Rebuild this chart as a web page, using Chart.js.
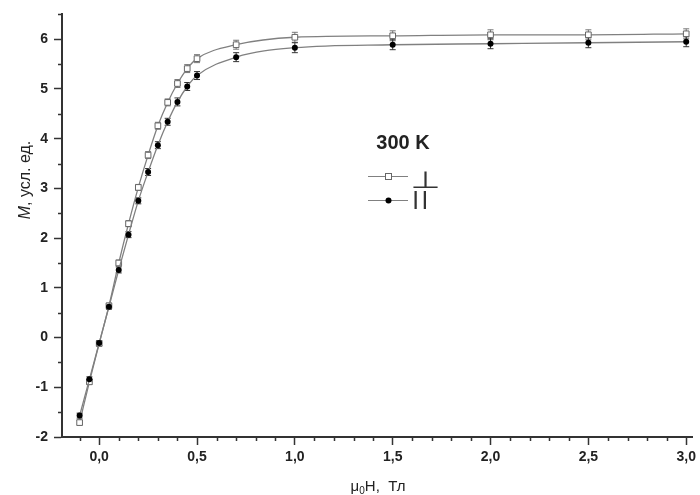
<!DOCTYPE html>
<html>
<head>
<meta charset="utf-8">
<script src="https://cdn.jsdelivr.net/npm/chart.js@4.4.0/dist/chart.umd.min.js"></script>
<style>
  body { margin: 0; background: #fff; }
  #wrap { width: 700px; height: 495px; }
</style>
</head>
<body>
<div id="wrap"><canvas id="magChart" width="700" height="495"></canvas></div>
<script>
// Поле, Тл
const fieldT = [-0.1, -0.05, 0, 0.05, 0.1, 0.15, 0.2, 0.25, 0.3, 0.35, 0.4, 0.45, 0.5, 0.7, 1.0, 1.5, 2.0, 2.5, 3.0];
// M для поля перпендикулярно (квадраты) и параллельно (кружки)
const magPerp = [-1.71, -0.89, -0.12, 0.64, 1.50, 2.29, 3.02, 3.67, 4.26, 4.73, 5.11, 5.41, 5.61, 5.89, 6.04, 6.07, 6.09, 6.09, 6.11];
const magPar  = [-1.57, -0.84, -0.11, 0.62, 1.36, 2.07, 2.75, 3.33, 3.87, 4.34, 4.74, 5.05, 5.27, 5.64, 5.83, 5.89, 5.91, 5.93, 5.95];
// погрешности
const errPerp = [0.05, 0.05, 0.05, 0.05, 0.06, 0.06, 0.06, 0.07, 0.07, 0.07, 0.08, 0.08, 0.08, 0.09, 0.1, 0.1, 0.1, 0.1, 0.1];
const errPar  = [0.05, 0.05, 0.05, 0.05, 0.06, 0.06, 0.06, 0.07, 0.07, 0.07, 0.08, 0.08, 0.08, 0.09, 0.1, 0.1, 0.1, 0.1, 0.1];

const xTicks = [0, 0.5, 1.0, 1.5, 2.0, 2.5, 3.0];
const yTicks = [-2, -1, 0, 1, 2, 3, 4, 5, 6];
const legendTitle = '300 K';
const legendLabels = ['\u22A5', '||'];

const AXIS = '#333';
const LINE = '#808080';

function fitGlyph(ctx, ch, x0, y0, x1, y1, font) {
    ctx.save();
    ctx.font = font;
    ctx.textAlign = 'left';
    ctx.textBaseline = 'alphabetic';
    const m = ctx.measureText(ch);
    const gw = m.actualBoundingBoxLeft + m.actualBoundingBoxRight;
    const gh = m.actualBoundingBoxAscent + m.actualBoundingBoxDescent;
    const sx = (x1 - x0) / gw, sy = (y1 - y0) / gh;
    ctx.translate(x0, y0);
    ctx.scale(sx, sy);
    ctx.fillText(ch, m.actualBoundingBoxLeft, m.actualBoundingBoxAscent);
    ctx.restore();
}

const extras = {
    id: 'extras',
    beforeDatasetsDraw(chart) {
        const ctx = chart.ctx, xs = chart.scales.x, ys = chart.scales.y;
        const sets = [[magPerp, errPerp, '#777'], [magPar, errPar, '#333']];
        ctx.save();
        ctx.lineWidth = 1;
        sets.forEach(([vals, errs, col]) => {
            ctx.strokeStyle = col;
            vals.forEach((v, i) => {
                const px = xs.getPixelForValue(fieldT[i]);
                const top = ys.getPixelForValue(v + errs[i]);
                const bot = ys.getPixelForValue(v - errs[i]);
                ctx.beginPath();
                ctx.moveTo(px, top); ctx.lineTo(px, bot);
                ctx.moveTo(px - 3, top); ctx.lineTo(px + 3, top);
                ctx.moveTo(px - 3, bot); ctx.lineTo(px + 3, bot);
                ctx.stroke();
            });
        });
        ctx.restore();
    },
    afterDraw(chart) {
        const ctx = chart.ctx, xs = chart.scales.x, ys = chart.scales.y;
        const area = chart.chartArea;
        ctx.save();
        // малые деления
        ctx.strokeStyle = AXIS;
        ctx.lineWidth = 1.5;
        ctx.beginPath();
        for (let k = -1; k <= 30; k++) {
            if (k % 5 === 0) continue;
            const px = Math.round(xs.getPixelForValue(k / 10)) + 0.5;
            ctx.moveTo(px, area.bottom); ctx.lineTo(px, area.bottom + 4);
        }
        for (let k = -3; k <= 13; k += 2) {
            const py = Math.round(ys.getPixelForValue(k / 2)) + 0.5;
            ctx.moveTo(area.left, py); ctx.lineTo(area.left - 4, py);
        }
        ctx.stroke();

        // подписи осей
        ctx.fillStyle = '#222';
        ctx.textBaseline = 'alphabetic';
        ctx.save();
        ctx.translate(30, 180);
        ctx.rotate(-Math.PI / 2);
        ctx.font = 'italic 16px Arial';
        const wM = ctx.measureText('M').width;
        ctx.font = '16px Arial';
        const rest = ', усл. ед.';
        const wR = ctx.measureText(rest).width;
        let sx = -(wM + wR) / 2;
        ctx.font = 'italic 16px Arial';
        ctx.fillText('M', sx, 0);
        ctx.font = '16px Arial';
        ctx.fillText(rest, sx + wM, 0);
        ctx.restore();

        ctx.font = '15px Arial';
        const mu = 'μ', sub = '0', tail = 'H,  Тл';
        const wMu = ctx.measureText(mu).width, wTail = ctx.measureText(tail).width;
        ctx.font = '10px Arial';
        const wSub = ctx.measureText(sub).width;
        let tx = 378 - (wMu + wSub + wTail) / 2;
        ctx.font = '15px Arial';
        ctx.fillText(mu, tx, 491);
        ctx.font = '10px Arial';
        ctx.fillText(sub, tx + wMu, 494);
        ctx.font = '15px Arial';
        ctx.fillText(tail, tx + wMu + wSub, 491);

        // легенда
        ctx.font = 'bold 20px Arial';
        ctx.textAlign = 'center';
        ctx.fillText(legendTitle, 403, 149);
        ctx.strokeStyle = LINE;
        ctx.lineWidth = 1.2;
        ctx.beginPath();
        ctx.moveTo(368, 176.5); ctx.lineTo(408, 176.5);
        ctx.moveTo(368, 200.5); ctx.lineTo(408, 200.5);
        ctx.stroke();
        ctx.fillStyle = '#fff';
        ctx.strokeStyle = '#666';
        ctx.lineWidth = 1;
        ctx.fillRect(385.5, 173.5, 6, 6);
        ctx.strokeRect(385.5, 173.5, 6, 6);
        ctx.fillStyle = '#000';
        ctx.beginPath();
        ctx.arc(388.5, 200.5, 3, 0, Math.PI * 2);
        ctx.fill();
        ctx.fillStyle = '#333';
        fitGlyph(ctx, legendLabels[0], 413, 171, 438, 188, '40px DejaVu Sans');
        fitGlyph(ctx, legendLabels[1], 414.5, 191, 426.5, 209, '40px DejaVu Sans');
        ctx.restore();
    }
};

const tickFont = { family: 'Arial', weight: 'bold', size: 14 };

new Chart(document.getElementById('magChart'), {
    type: 'line',
    data: {
        labels: fieldT,
        datasets: [{
            label: legendLabels[0],
            order: 1,
            data: fieldT.map((x, i) => ({ x: x, y: magPerp[i] })),
            borderColor: LINE,
            borderWidth: 1.3,
            cubicInterpolationMode: 'monotone',
            pointStyle: 'rect',
            pointRadius: 4,
            pointBackgroundColor: '#fff',
            pointBorderColor: '#666',
            pointBorderWidth: 1
        }, {
            label: legendLabels[1],
            order: 0,
            data: fieldT.map((x, i) => ({ x: x, y: magPar[i] })),
            borderColor: LINE,
            borderWidth: 1.3,
            cubicInterpolationMode: 'monotone',
            pointStyle: 'circle',
            pointRadius: 3,
            pointBackgroundColor: '#000',
            pointBorderColor: '#000',
            pointBorderWidth: 0
        }]
    },
    options: {
        responsive: false,
        animation: false,
        layout: { padding: { left: 0, right: 7, top: 12, bottom: 0 } },
        plugins: { legend: { display: false }, tooltip: { enabled: false } },
        scales: {
            x: {
                type: 'linear',
                min: -0.19,
                max: 3.03,
                afterBuildTicks: s => { s.ticks = xTicks.map(v => ({ value: v })); },
                afterFit: s => { s.height = 58; },
                border: { display: true, color: AXIS, width: 2 },
                grid: { drawOnChartArea: false, drawTicks: true, tickLength: 8, tickColor: AXIS, tickWidth: 1.5 },
                ticks: {
                    font: tickFont, color: '#222', padding: 4, maxRotation: 0,
                    callback: v => v.toFixed(1).replace('.', ',')
                }
            },
            y: {
                min: -2,
                max: 6.5,
                afterBuildTicks: s => { s.ticks = yTicks.map(v => ({ value: v })); },
                afterFit: s => { s.width = 62; },
                border: { display: true, color: AXIS, width: 2 },
                grid: { drawOnChartArea: false, drawTicks: true, tickLength: 8, tickColor: AXIS, tickWidth: 1.5 },
                ticks: { font: tickFont, color: '#222', padding: 6, callback: v => String(v) }
            }
        }
    },
    plugins: [extras]
});
</script>
</body>
</html>
